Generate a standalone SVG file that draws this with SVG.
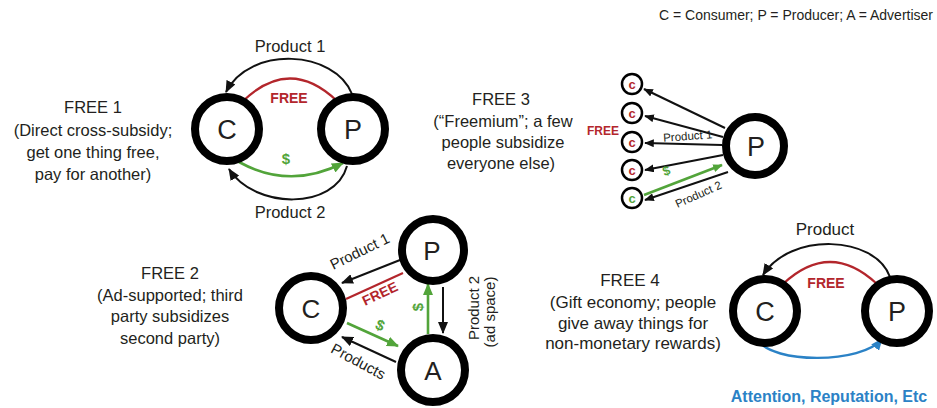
<svg xmlns="http://www.w3.org/2000/svg" width="937" height="408" viewBox="0 0 937 408">
<style>
text{font-family:"Liberation Sans",Arial,sans-serif;fill:#231f20}
.desc{font-size:16.5px;text-anchor:middle}
.lbl{font-size:16px;text-anchor:middle}
.sm{font-size:11.5px;text-anchor:middle}
.big{font-size:27px;text-anchor:middle}
.free{font-weight:bold;fill:#b3262c;text-anchor:middle}
.usd{font-weight:bold;fill:#52a43a;text-anchor:middle}
.cl{font-size:13px;font-weight:bold;fill:#b3262c;text-anchor:middle}
.node{fill:#fff;stroke:#000;stroke-width:8}
.cnode{fill:#fff;stroke:#000;stroke-width:2.5}
.k{fill:none;stroke:#111;stroke-width:2}
.r{fill:none;stroke:#b3262c;stroke-width:2.2}
.g{fill:none;stroke:#52a43a;stroke-width:2.6}
.b{fill:none;stroke:#2b82c6;stroke-width:2.4}
</style>
<defs>
<marker id="ak" viewBox="0 0 12 10" refX="11" refY="5" markerWidth="12" markerHeight="10" markerUnits="userSpaceOnUse" orient="auto"><path d="M0,0 L12,5 L0,10 z" fill="#111"/></marker>
<marker id="ag" viewBox="0 0 12 10" refX="11" refY="5" markerWidth="12" markerHeight="10" markerUnits="userSpaceOnUse" orient="auto"><path d="M0,0 L12,5 L0,10 z" fill="#52a43a"/></marker>
<marker id="ab" viewBox="0 0 12 10" refX="11" refY="5" markerWidth="12" markerHeight="10" markerUnits="userSpaceOnUse" orient="auto"><path d="M0,0 L12,5 L0,10 z" fill="#2b82c6"/></marker>
<marker id="aks" viewBox="0 0 12 10" refX="11" refY="5" markerWidth="10" markerHeight="8" markerUnits="userSpaceOnUse" orient="auto"><path d="M0,0 L12,5 L0,10 z" fill="#111"/></marker>
<marker id="ags" viewBox="0 0 12 10" refX="11" refY="5" markerWidth="10" markerHeight="8" markerUnits="userSpaceOnUse" orient="auto"><path d="M0,0 L12,5 L0,10 z" fill="#52a43a"/></marker>
</defs>
<rect width="937" height="408" fill="#fff"/>

<text x="933" y="20" style="font-size:14px;text-anchor:end">C = Consumer; P = Producer; A = Advertiser</text>

<!-- descriptions -->
<g id="desc1">
<text class="desc" x="93" y="113">FREE 1</text>
<text class="desc" x="93" y="136">(Direct cross-subsidy;</text>
<text class="desc" x="93" y="158">get one thing free,</text>
<text class="desc" x="93" y="180">pay for another)</text>
</g>
<g id="desc3">
<text class="desc" x="501" y="105">FREE 3</text>
<text class="desc" x="503" y="127">(“Freemium”; a few</text>
<text class="desc" x="503" y="148">people subsidize</text>
<text class="desc" x="501" y="169">everyone else)</text>
</g>
<g id="desc2">
<text class="desc" x="170" y="279">FREE 2</text>
<text class="desc" x="170" y="300.5">(Ad-supported; third</text>
<text class="desc" x="170" y="322">party subsidizes</text>
<text class="desc" x="170" y="343.5">second party)</text>
</g>
<g id="desc4">
<text class="desc" x="630" y="286" style="font-size:17px">FREE 4</text>
<text class="desc" x="633" y="308" style="font-size:17px">(Gift economy; people</text>
<text class="desc" x="633" y="329" style="font-size:17px">give away things for</text>
<text class="desc" x="633" y="349" style="font-size:17px">non-monetary rewards)</text>
</g>

<!-- connectors -->
<g id="connectors">
<!-- FREE 1 -->
<path class="k" d="M352,94 C335,50 250,45 226,92" marker-end="url(#ak)"/>
<path class="r" d="M243,101 Q290,56 337,101"/>
<path class="g" d="M239,162 Q290,190 343,163" marker-end="url(#ag)"/>
<path class="k" d="M347,166 C335,210 255,210 229,169" marker-end="url(#ak)"/>
<!-- FREE 3 -->
<path class="k" d="M725,128 L644,89" marker-end="url(#aks)"/>
<path class="k" d="M723,137 L645,116" marker-end="url(#aks)"/>
<path class="k" d="M722,145 L645,143" marker-end="url(#aks)"/>
<path class="k" d="M723,155 L645,170" marker-end="url(#aks)"/>
<path class="g" d="M644,195 L722,165" marker-end="url(#ags)"/>
<path class="k" d="M728,172 L645,200" marker-end="url(#aks)"/>
<!-- FREE 2 -->
<path class="k" d="M400,260 L342,283" marker-end="url(#ak)"/>
<path class="r" d="M403,273 L346,299"/>
<path class="g" d="M347,323 L398,346" marker-end="url(#ag)"/>
<path class="k" d="M396,362 L342,337" marker-end="url(#ak)"/>
<path class="g" d="M428,334 L428,284" marker-end="url(#ag)"/>
<path class="k" d="M443,287 L443,333" marker-end="url(#ak)"/>
<!-- FREE 4 -->
<path class="k" d="M890,277 C875,235 790,232 763,275" marker-end="url(#ak)"/>
<path class="r" d="M783,284 Q830,240 877,284"/>
<path class="b" d="M758,340 C772,364 862,364 882,339" marker-end="url(#ab)"/>
</g>

<!-- connector labels -->
<g id="labels">
<text class="lbl" x="290" y="52" style="font-size:16.5px">Product 1</text>
<text class="lbl" x="290" y="218" style="font-size:16.5px">Product 2</text>
<text class="free" x="289" y="103" style="font-size:14px">FREE</text>
<text class="usd" x="286" y="164" style="font-size:15px">$</text>

<text class="free" x="603" y="135" style="font-size:12px">FREE</text>
<text class="sm" x="688" y="140" transform="rotate(-4 688 140)">Product 1</text>
<text class="usd" x="668" y="175" style="font-size:13px" transform="rotate(-20 668 175)">$</text>
<text class="sm" x="700" y="198" transform="rotate(-24 700 198)">Product 2</text>

<text class="lbl" x="0" y="0" style="font-size:15px" transform="translate(362,256) rotate(-26)">Product 1</text>
<text class="free" x="0" y="0" style="font-size:14px" transform="translate(382,298) rotate(-25)">FREE</text>
<text class="usd" x="0" y="0" style="font-size:15px" transform="translate(378,330) rotate(24)">$</text>
<text class="usd" x="0" y="0" style="font-size:15px" transform="translate(423,307) rotate(-90)">$</text>
<text class="lbl" x="0" y="0" style="font-size:15px" transform="translate(479,308) rotate(-90)">Product 2</text>
<text class="lbl" x="0" y="0" style="font-size:15px" transform="translate(495,312) rotate(-90)">(ad space)</text>
<text class="lbl" x="0" y="0" style="font-size:15px" transform="translate(356,366) rotate(28)">Products</text>

<text class="lbl" x="825" y="235" style="font-size:17px">Product</text>
<text class="free" x="826" y="288" style="font-size:14px">FREE</text>
<text x="829" y="402" style="font-size:16px;font-weight:bold;fill:#2b82c6;text-anchor:middle">Attention, Reputation, Etc</text>
</g>

<!-- nodes -->
<g id="f1-c"><circle class="node" cx="227" cy="129" r="32"/><text class="big" x="227" y="139">C</text></g>
<g id="f1-p"><circle class="node" cx="353" cy="129" r="32"/><text class="big" x="353" y="139">P</text></g>

<g id="f3-p"><circle class="node" cx="755" cy="146" r="29"/><text class="big" x="756" y="156">P</text></g>
<g id="f3-c1"><circle class="cnode" cx="632" cy="84" r="10"/><text class="cl" x="632" y="88.5">c</text></g>
<g id="f3-c2"><circle class="cnode" cx="632" cy="113" r="10"/><text class="cl" x="632" y="117.5">c</text></g>
<g id="f3-c3"><circle class="cnode" cx="632" cy="142" r="10"/><text class="cl" x="632" y="146.5">c</text></g>
<g id="f3-c4"><circle class="cnode" cx="632" cy="170" r="10"/><text class="cl" x="632" y="174.5">c</text></g>
<g id="f3-c5"><circle class="cnode" cx="632" cy="198" r="10"/><text class="cl" x="632" y="202.5" style="fill:#52a43a">c</text></g>

<g id="f2-p"><circle class="node" cx="433" cy="250" r="31"/><text class="big" x="432" y="260" style="font-size:26px">P</text></g>
<g id="f2-c"><circle class="node" cx="311" cy="308" r="32"/><text class="big" x="311" y="318" style="font-size:26px">C</text></g>
<g id="f2-a"><circle class="node" cx="433" cy="370" r="32"/><text class="big" x="433" y="380" style="font-size:26px">A</text></g>

<g id="f4-c"><circle class="node" cx="765" cy="311" r="32"/><text class="big" x="765" y="321">C</text></g>
<g id="f4-p"><circle class="node" cx="897" cy="311" r="32"/><text class="big" x="897" y="321">P</text></g>
</svg>
